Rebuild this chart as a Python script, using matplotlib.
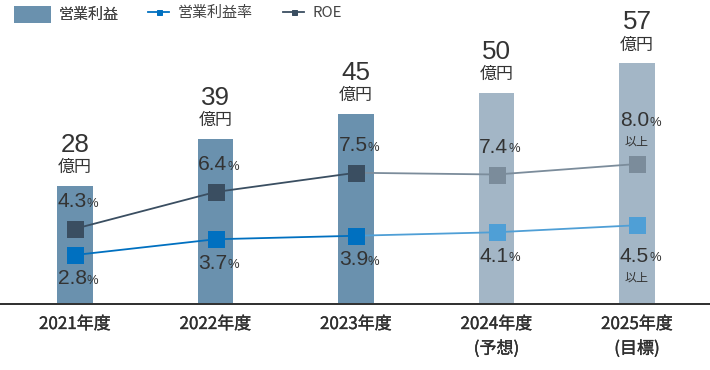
import matplotlib.pyplot as plt
import matplotlib.patheffects as pe
from matplotlib.patches import Patch
from matplotlib.lines import Line2D

plt.rcParams['font.family'] = ['Noto Sans CJK JP', 'DejaVu Sans']
NUM_FONT = ['Liberation Sans', 'Noto Sans CJK JP']

years = ['2021年度', '2022年度', '2023年度', '2024年度\n(予想)', '2025年度\n(目標)']
profit = [28, 39, 45, 50, 57]          # 営業利益 (億円)
margin = [2.8, 3.7, 3.9, 4.1, 4.5]     # 営業利益率 (%)
roe = [4.3, 6.4, 7.5, 7.4, 8.0]        # ROE (%)
n_actual = 3                           # 2021-2023 actual, rest forecast / target
above_note = ['', '', '', '', '以上']

BAR_DARK = '#6a91ae'
BAR_LIGHT = '#a3b6c6'
M_DARK = '#0070c0'
M_LIGHT = '#4f9fd6'
R_DARK = '#3a4e61'
R_LIGHT = '#7b8c9b'
TXT = '#333333'

# dpi 72 so that 1 pt == 1 px
fig = plt.figure(figsize=(710 / 72, 370 / 72), dpi=72)
ax = fig.add_axes([0, 66 / 370, 1, 304 / 370])
ax2 = ax.twinx()

x = list(range(len(years)))
bar_colors = [BAR_DARK if i < n_actual else BAR_LIGHT for i in x]
ax.bar(x, profit, width=0.25, color=bar_colors, zorder=1)

ax.set_xlim(-75 / 140.5, (710 - 75) / 140.5)
ax.set_ylim(0, 304 / 4.22)
ax2.set_ylim(0, 304 / 17.5)

# lines: actual segment dark, forecast segment light
xa, xf = x[:n_actual], x[n_actual - 1:]
ax2.plot(xa, margin[:n_actual], color=M_DARK, lw=1.8, zorder=3)
ax2.plot(xf, margin[n_actual - 1:], color=M_LIGHT, lw=1.8, zorder=3)
ax2.plot(xa, roe[:n_actual], color=R_DARK, lw=1.8, zorder=3)
ax2.plot(xf, roe[n_actual - 1:], color=R_LIGHT, lw=1.8, zorder=3)
for i in x:
    ax2.plot(i, margin[i], marker='s', ms=17, ls='none', mew=0,
             color=M_DARK if i < n_actual else M_LIGHT, zorder=4)
    ax2.plot(i, roe[i], marker='s', ms=17, ls='none', mew=0,
             color=R_DARK if i < n_actual else R_LIGHT, zorder=4)

# bar value labels
for i, v in enumerate(profit):
    ax.annotate(str(v), (i, v), xytext=(0, 41), textcoords='offset points',
                ha='center', va='center', fontsize=26, color=TXT, family=NUM_FONT)
    ax.annotate('億円', (i, v), xytext=(0, 19), textcoords='offset points',
                ha='center', va='center', fontsize=17, color=TXT)


def pct_label(xv, yv, dy, val):
    ax2.annotate(f'{val:.1f}', (xv, yv), xytext=(12, dy), textcoords='offset points',
                 ha='right', va='center', fontsize=21, color=TXT, family=NUM_FONT, zorder=5)
    ax2.annotate('%', (xv, yv), xytext=(12, dy - 2), textcoords='offset points',
                 ha='left', va='center', fontsize=13, color=TXT, family=NUM_FONT, zorder=5)


for i in x:
    if above_note[i]:
        pct_label(i, roe[i], 43, roe[i])
        ax2.annotate(above_note[i], (i, roe[i]), xytext=(0, 22), textcoords='offset points',
                     ha='center', va='center', fontsize=12, color=TXT)
        pct_label(i, margin[i], -31, margin[i])
        ax2.annotate(above_note[i], (i, margin[i]), xytext=(0, -53), textcoords='offset points',
                     ha='center', va='center', fontsize=12, color=TXT)
    else:
        pct_label(i, roe[i], 27, roe[i])
        pct_label(i, margin[i], -24, margin[i])

# axes styling
for a in (ax, ax2):
    for s in ('top', 'right', 'left'):
        a.spines[s].set_visible(False)
    a.set_yticks([])
ax2.spines['bottom'].set_visible(False)
ax.spines['bottom'].set_color('#333333')
ax.spines['bottom'].set_linewidth(2)
ax.set_xticks(x)
ax.set_xticklabels(years, fontsize=17, color='#2e2e2e', linespacing=1.45)
for t in ax.get_xticklabels():
    # medium-weight look
    t.set_path_effects([pe.Stroke(linewidth=0.35, foreground='#2e2e2e'), pe.Normal()])
ax.tick_params(axis='x', length=0, pad=11)

# legends
leg1 = fig.legend(handles=[Patch(color=BAR_DARK, label='営業利益')],
                  loc='upper left', bbox_to_anchor=(14 / 710, 1 - 6 / 370),
                  frameon=False, fontsize=15, handlelength=2.4, handleheight=1.3,
                  handletextpad=0.6, borderpad=0, borderaxespad=0, labelcolor='#444444')
fig.legend(handles=[Line2D([], [], color=M_DARK, marker='s', ms=5, lw=1.8, label='営業利益率'),
                    Line2D([], [], color=R_DARK, marker='s', ms=5, lw=1.8, label='ROE')],
           loc='upper left', bbox_to_anchor=(148 / 710, 1 - 6 / 370), ncol=2,
           frameon=False, fontsize=15, handlelength=1.4, handletextpad=0.6,
           columnspacing=2.0, borderpad=0, borderaxespad=0, labelcolor='#444444')
fig.add_artist(leg1)

fig.savefig('out.png', dpi=72)
